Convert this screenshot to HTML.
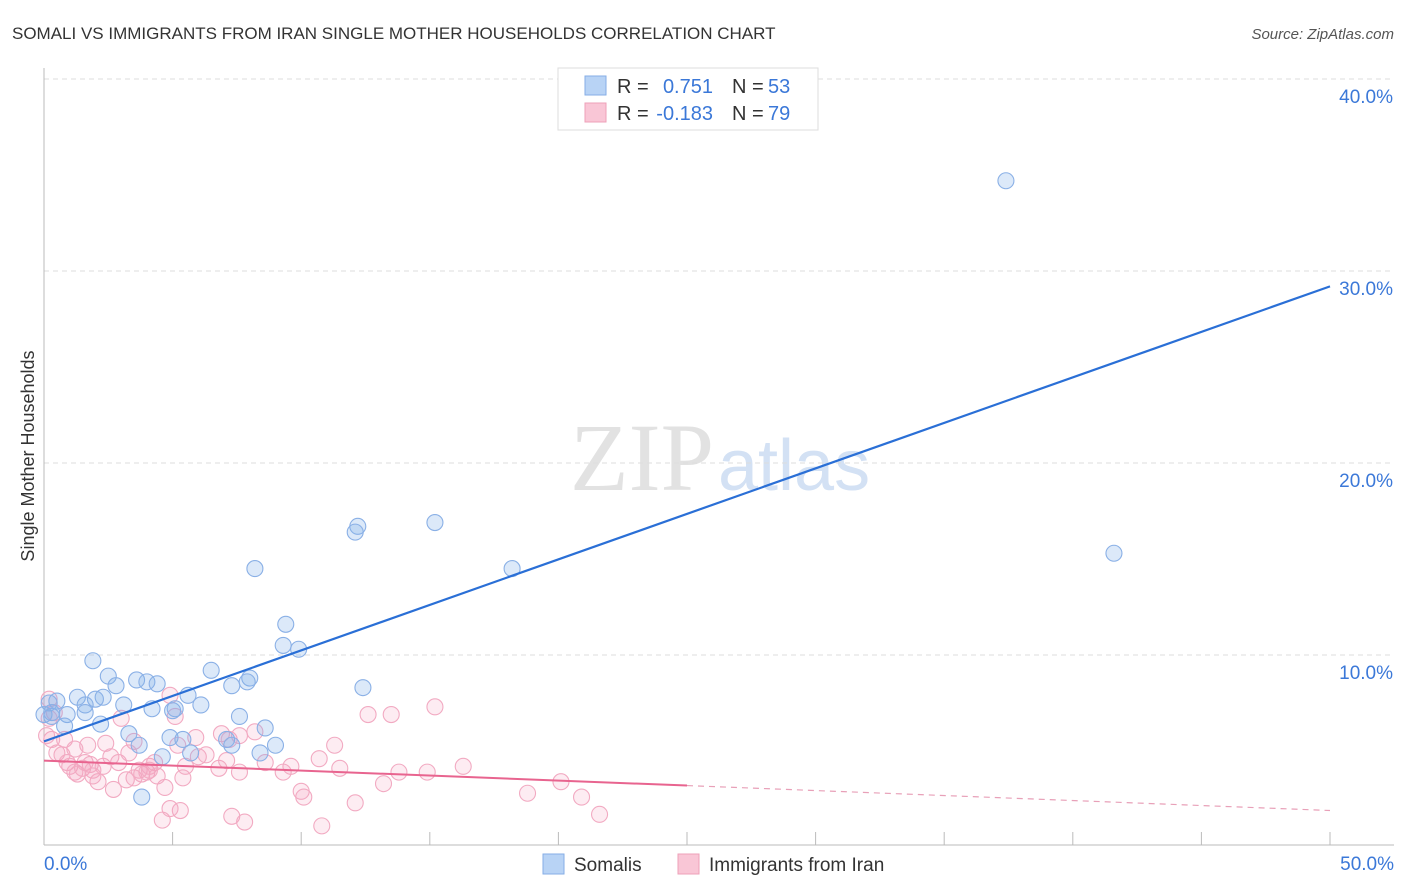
<!DOCTYPE html>
<html><head><meta charset="utf-8"><style>
body{margin:0;background:#fff;font-family:"Liberation Sans",sans-serif}
svg{display:block}
</style></head><body>
<svg id="chart" width="1406" height="892">
<text x="12" y="39" font-size="17" fill="#333">SOMALI VS IMMIGRANTS FROM IRAN SINGLE MOTHER HOUSEHOLDS CORRELATION CHART</text>
<text x="1394" y="39" font-size="15" fill="#555" font-style="italic" text-anchor="end">Source: ZipAtlas.com</text>
<text x="714" y="490" font-size="96" fill="#e2e2e2" font-family="Liberation Serif,serif" text-anchor="end">ZIP</text>
<text x="718" y="490" font-size="72" fill="#d3e1f4">atlas</text>
<text transform="translate(34,456) rotate(-90)" font-size="18" fill="#333" text-anchor="middle">Single Mother Households</text>
<g id="grid"></g><g id="pts"></g><g id="lines"></g>
<g>
<rect x="558" y="68" width="260" height="62" fill="#fff" stroke="#ddd"/>
<rect x="585" y="76" width="21" height="19" fill="#b8d3f5" stroke="#86aee6"/>
<rect x="585" y="103" width="21" height="19" fill="#f9c6d6" stroke="#eea0b8"/>
<text x="617" y="93" font-size="20" fill="#333">R =</text><text x="713" y="93" font-size="20" fill="#3b78d8" text-anchor="end">0.751</text>
<text x="732" y="93" font-size="20" fill="#333">N =</text><text x="768" y="93" font-size="20" fill="#3b78d8">53</text>
<text x="617" y="120" font-size="20" fill="#333">R =</text><text x="713" y="120" font-size="20" fill="#3b78d8" text-anchor="end">-0.183</text>
<text x="732" y="120" font-size="20" fill="#333">N =</text><text x="768" y="120" font-size="20" fill="#3b78d8">79</text>
</g>
<g>
<rect x="543" y="854" width="21" height="20" fill="#b8d3f5" stroke="#86aee6"/>
<text x="574" y="871" font-size="19" fill="#333">Somalis</text>
<rect x="678" y="854" width="21" height="20" fill="#f9c6d6" stroke="#eea0b8"/>
<text x="709" y="871" font-size="19" fill="#333">Immigrants from Iran</text>
</g>
</svg>
<script>
const xTicks=[0,5,10,15,20,25,30,35,40,45,50];
const yTicks=[10,20,30,40];
const somaliX=[37.4,41.6,15.2,12.2,12.1,18.2,8.2,9.4,9.3,9.9,1.9,6.5,2.5,3.6,4.0,4.4,8.0,7.9,7.3,2.8,12.4,1.3,2.3,2.0,5.6,0.5,0.2,1.6,3.1,4.2,6.1,5.1,5.0,1.6,0.3,0.9,7.6,0,2.2,0.8,3.3,8.6,4.9,5.4,3.7,7.1,7.3,9.0,8.4,5.7,4.6,3.8,0.3];
const somaliY=[34.7,15.3,16.9,16.7,16.4,14.5,14.5,11.6,10.5,10.3,9.7,9.2,8.9,8.7,8.6,8.5,8.8,8.6,8.4,8.4,8.3,7.8,7.8,7.7,7.9,7.6,7.5,7.4,7.4,7.2,7.4,7.2,7.1,7.0,6.8,6.9,6.8,6.9,6.4,6.3,5.9,6.2,5.7,5.6,5.3,5.6,5.3,5.3,4.9,4.9,4.7,2.6,7.0];
const iranX=[0.2,0.4,0.3,0.5,0.7,0.9,1.0,1.2,1.3,1.5,1.6,1.8,1.9,2.1,2.3,2.4,2.6,2.7,2.9,3.0,3.2,3.3,3.5,3.7,3.8,4.0,4.1,4.3,4.4,4.6,4.7,4.9,5.1,5.2,5.4,5.5,5.3,4.9,6.0,6.3,6.8,6.9,7.2,7.3,7.6,7.8,8.2,8.6,9.3,9.6,10.0,10.1,10.7,10.8,11.3,11.5,12.1,12.6,13.2,13.5,13.8,14.9,15.2,16.3,18.8,20.1,20.9,21.6,0.8,1.7,1.2,1.9,0.1,0.2,3.5,4.1,5.9,7.1,7.6];
const iranY=[7.7,7.0,5.6,4.9,4.8,4.4,4.2,3.9,3.8,4.1,4.4,4.3,4.0,3.4,4.2,5.4,4.7,3.0,4.4,6.7,3.5,4.9,3.6,4.0,3.8,3.9,4.2,4.4,3.7,1.4,3.1,7.9,6.8,5.3,3.6,4.2,1.9,2.0,4.7,4.8,4.1,5.9,5.6,1.6,3.9,1.3,6.0,4.4,3.9,4.2,2.9,2.6,4.6,1.1,5.3,4.1,2.3,6.9,3.3,6.9,3.9,3.9,7.3,4.2,2.8,3.4,2.6,1.7,5.6,5.3,5.1,3.7,5.8,6.7,5.5,4.0,5.7,4.5,5.8];
const somaliTrend=[5.5,29.2];
const iranTrend=[4.5,1.9];
const iranSolidEnd=25;
const NS='http://www.w3.org/2000/svg';
const X=v=>44+v*25.72, Y=v=>847-v*19.2;
function mk(t,a,p){const e=document.createElementNS(NS,t);for(const k in a)e.setAttribute(k,a[k]);p.appendChild(e);return e;}
const grid=document.getElementById('grid');
yTicks.forEach(t=>{
 const l=mk('line',{x1:44,x2:1394,y1:Y(t),y2:Y(t),stroke:'#ddd','stroke-dasharray':'5,4'},grid);
 
 
 const tx=mk('text',{x:1393,y:Y(t)+24,'font-size':19,fill:'#3b78d8','text-anchor':'end'},grid);
 tx.textContent=t.toFixed(1)+'%';
 
 
});
const ax=mk('line',{x1:44,x2:1394,y1:845,y2:845,stroke:'#bbb'},grid);


const ay=mk('line',{x1:44,x2:44,y1:68,y2:845,stroke:'#bbb'},grid);


xTicks.forEach(t=>{
 const l=mk('line',{x1:X(t),x2:X(t),y1:832,y2:845,stroke:'#bbb'},grid);
 
 
});
[[0,'start',44],[50,'end',1394]].forEach(([t,a,x])=>{
 const tx=mk('text',{x:x,y:870,'font-size':19,fill:'#3b78d8','text-anchor':a},grid);
 tx.textContent=t.toFixed(1)+'%';
 
 
});
const pts=document.getElementById('pts');
iranX.forEach((v,i)=>{
 const c=mk('circle',{cx:X(v),cy:Y(iranY[i]),r:8,fill:'rgba(245,160,190,0.2)',stroke:'#f2aac2','stroke-width':1.1},pts);
 
 
});
somaliX.forEach((v,i)=>{
 const c=mk('circle',{cx:X(v),cy:Y(somaliY[i]),r:8,fill:'rgba(130,175,235,0.28)',stroke:'#8ab0e6','stroke-width':1.1},pts);
 
 
});
const lines=document.getElementById('lines');
const s=mk('line',{x1:X(0),y1:Y(somaliTrend[0]),x2:X(50),y2:Y(somaliTrend[1]),stroke:'#2a6fd6','stroke-width':2.2},lines);


const iy=x=>iranTrend[0]+(iranTrend[1]-iranTrend[0])*x/50;
const p1=mk('line',{x1:X(0),y1:Y(iranTrend[0]),x2:X(iranSolidEnd),y2:Y(iy(iranSolidEnd)),stroke:'#e8648f','stroke-width':2},lines);


const p2=mk('line',{x1:X(iranSolidEnd),y1:Y(iy(iranSolidEnd)),x2:X(50),y2:Y(iranTrend[1]),stroke:'#e8a0b8','stroke-width':1.2,'stroke-dasharray':'6,5'},lines);


</script>
</body></html>
